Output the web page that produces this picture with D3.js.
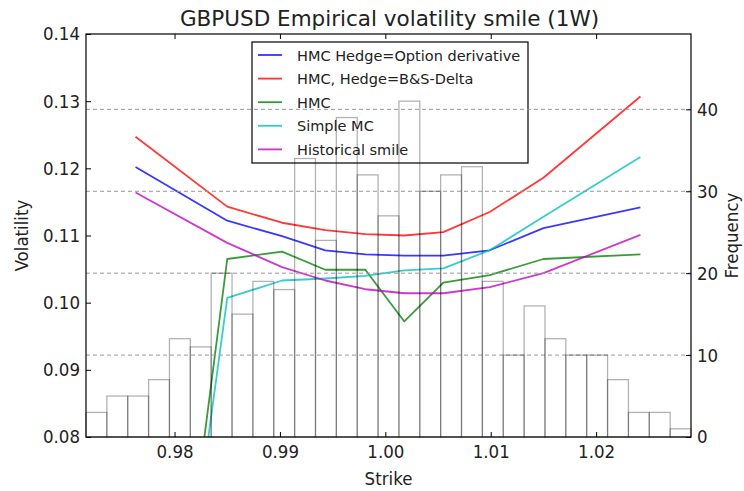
<!DOCTYPE html>
<html>
<head>
<meta charset="utf-8">
<script src="https://cdn.jsdelivr.net/npm/d3@7"></script>
<style>
  body { margin: 0; background: #fff; }
  svg { display: block; }
</style>
</head>
<body>
<svg id="chart" width="744" height="491"></svg>
<script>
// Strike grid shared by all smile curves
const strikes = [0.9763, 0.9850, 0.9902, 0.9943, 0.9981, 1.0018, 1.0055, 1.0099, 1.0150, 1.0242];

// Implied volatility per method
const volOptionHedge = [0.1202, 0.1122, 0.1099, 0.1078, 0.1072, 0.1070, 0.1070, 0.1078, 0.1111, 0.1142];
const volBSDelta     = [0.1247, 0.1143, 0.1119, 0.1108, 0.1102, 0.1100, 0.1105, 0.1135, 0.1186, 0.1307];
const volHMC         = [0.0000, 0.1065, 0.1076, 0.1049, 0.1049, 0.0972, 0.1030, 0.1041, 0.1065, 0.1072];
const volSimpleMC    = [0.0000, 0.1007, 0.1033, 0.1036, 0.1040, 0.1048, 0.1051, 0.1078, 0.1128, 0.1217];
const volHistorical  = [0.1164, 0.1089, 0.1053, 0.1033, 0.1020, 0.1014, 0.1014, 0.1023, 0.1044, 0.1101];

// Histogram of observed spot at expiry
const histCounts = [3, 5, 5, 7, 12, 11, 20, 15, 19, 18, 34, 24, 39, 32, 27, 41, 30, 32, 33, 19, 10, 16, 12, 10, 10, 7, 3, 3, 1];
const histRange = [0.9716, 1.0290];

// Axis settings
const strikeDomain = [0.9716, 1.0290];
const volDomain = [0.08, 0.14];
const freqDomain = [0, 49.2];
const xTicks = [0.98, 0.99, 1.00, 1.01, 1.02];
const volTicks = [0.08, 0.09, 0.10, 0.11, 0.12, 0.13, 0.14];
const freqTicks = [0, 10, 20, 30, 40];

const seriesNames = ["HMC Hedge=Option derivative", "HMC, Hedge=B&S-Delta", "HMC", "Simple MC", "Historical smile"];
const seriesColors = ["#0000ff", "#ff0000", "#008000", "#00bfbf", "#bf00bf"];
const seriesValues = [volOptionHedge, volBSDelta, volHMC, volSimpleMC, volHistorical];

const titleText = "GBPUSD Empirical volatility smile (1W)";
const xLabel = "Strike";
const yLabel = "Volatility";
const y2Label = "Frequency";

// Layout
const W = 744, H = 491;
const m = { left: 86, right: 53, top: 34, bottom: 54 };
const iw = W - m.left - m.right, ih = H - m.top - m.bottom;

const tickFont = "'DejaVu Sans Condensed', 'DejaVu Sans', sans-serif";
const mainFont = "'DejaVu Sans', sans-serif";

const svg = d3.select("#chart");
svg.append("rect").attr("width", W).attr("height", H).attr("fill", "#fff");

const x = d3.scaleLinear().domain(strikeDomain).range([0, iw]);
const y = d3.scaleLinear().domain(volDomain).range([ih, 0]);
const y2 = d3.scaleLinear().domain(freqDomain).range([ih, 0]);

svg.append("defs").append("clipPath").attr("id", "plot-clip")
  .append("rect").attr("width", iw).attr("height", ih);

const g = svg.append("g").attr("transform", `translate(${m.left},${m.top})`);

// Smile curves (primary axis)
const curves = g.append("g").attr("clip-path", "url(#plot-clip)");
const line = d3.line().x((d, i) => x(strikes[i])).y(d => y(d));
seriesValues.forEach((vals, k) => {
  curves.append("path")
    .attr("d", line(vals))
    .attr("fill", "none")
    .attr("stroke", seriesColors[k])
    .attr("stroke-opacity", 0.78)
    .attr("stroke-width", 1.8)
    .attr("stroke-linejoin", "round");
});

// Legend belongs to the primary axis, so the histogram axis draws over it
const legend = g.append("g").attr("transform", `translate(${252 - m.left},${42 - m.top})`);
legend.append("rect")
  .attr("width", 276).attr("height", 121)
  .attr("fill", "#fff").attr("stroke", "#000").attr("stroke-width", 1.2);
seriesNames.forEach((name, k) => {
  const ry = 13 + k * 23.6;
  legend.append("line")
    .attr("x1", 6).attr("x2", 30).attr("y1", ry).attr("y2", ry)
    .attr("stroke", seriesColors[k]).attr("stroke-opacity", 0.8).attr("stroke-width", 1.8);
  legend.append("text")
    .attr("x", 45).attr("y", ry + 5.5)
    .attr("font-family", mainFont).attr("font-size", 14.5)
    .attr("fill", "#222")
    .text(name);
});

// Secondary axis: grid and histogram
const grid = g.append("g");
freqTicks.filter(t => t > 0).forEach(t => {
  grid.append("line")
    .attr("x1", 0).attr("x2", iw).attr("y1", y2(t)).attr("y2", y2(t))
    .attr("stroke", "#999").attr("stroke-width", 1).attr("stroke-dasharray", "4,3");
});

const nb = histCounts.length;
const binW = (histRange[1] - histRange[0]) / nb;
const bins = histCounts.map((c, i) => ({ x0: histRange[0] + i * binW, x1: histRange[0] + (i + 1) * binW, c }));
g.append("g").selectAll("rect").data(bins).join("rect")
  .attr("x", d => x(d.x0))
  .attr("width", d => x(d.x1) - x(d.x0))
  .attr("y", d => y2(d.c))
  .attr("height", d => y2(0) - y2(d.c))
  .attr("fill", "none")
  .attr("stroke", "#000")
  .attr("stroke-opacity", 0.3)
  .attr("stroke-width", 1.3);

// Frame
g.append("rect").attr("width", iw).attr("height", ih)
  .attr("fill", "none").attr("stroke", "#000").attr("stroke-width", 1.2);

// Axes with inward ticks
function styleAxis(sel) {
  sel.select(".domain").remove();
  sel.selectAll(".tick line").attr("stroke", "#000").attr("stroke-width", 1);
  sel.selectAll(".tick text").attr("font-family", tickFont).attr("font-size", 18.5).attr("fill", "#222");
}
g.append("g").attr("transform", `translate(0,${ih})`)
  .call(d3.axisBottom(x).tickValues(xTicks).tickSize(-5).tickPadding(8).tickFormat(d3.format(".2f")))
  .call(styleAxis);
g.append("g")
  .call(d3.axisTop(x).tickValues(xTicks).tickSize(-5).tickFormat(""))
  .call(styleAxis);
g.append("g")
  .call(d3.axisLeft(y).tickValues(volTicks).tickSize(-5).tickPadding(6).tickFormat(d3.format(".2f")))
  .call(styleAxis);
g.append("g").attr("transform", `translate(${iw},0)`)
  .call(d3.axisRight(y2).tickValues(freqTicks).tickSize(-5).tickPadding(6).tickFormat(d3.format("d")))
  .call(styleAxis);

// Titles
svg.append("text").attr("x", m.left + iw / 2 + 1).attr("y", 26)
  .attr("text-anchor", "middle").attr("font-family", mainFont).attr("font-size", 21.5).attr("fill", "#222")
  .text(titleText);
svg.append("text").attr("x", m.left + iw / 2).attr("y", 485)
  .attr("text-anchor", "middle").attr("font-family", tickFont).attr("font-size", 18.5).attr("fill", "#222")
  .text(xLabel);
svg.append("text").attr("transform", `translate(28,${m.top + ih / 2}) rotate(-90)`)
  .attr("text-anchor", "middle").attr("font-family", tickFont).attr("font-size", 18.5).attr("fill", "#222")
  .text(yLabel);
svg.append("text").attr("transform", `translate(738,${m.top + ih / 2}) rotate(-90)`)
  .attr("text-anchor", "middle").attr("font-family", tickFont).attr("font-size", 18.5).attr("fill", "#222")
  .text(y2Label);
</script>
</body>
</html>
